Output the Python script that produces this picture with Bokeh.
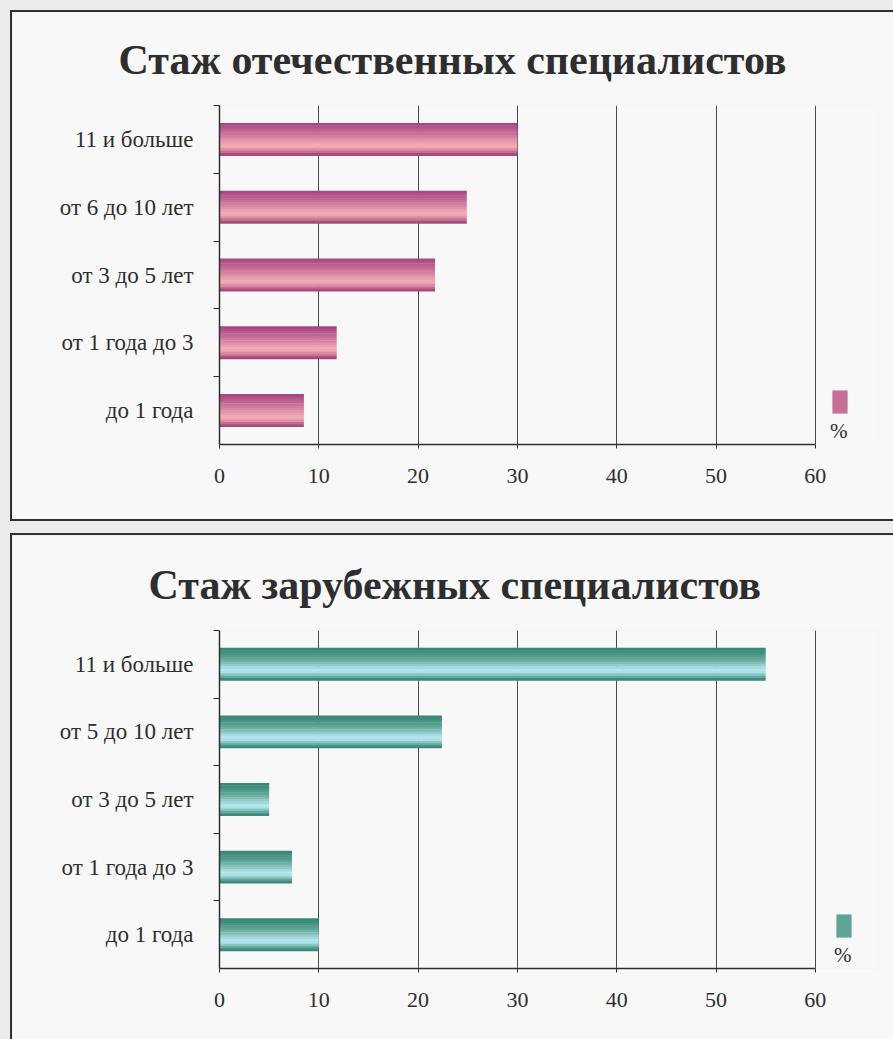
from bokeh.plotting import figure
from bokeh.models import Range1d, FixedTicker, Legend, LegendItem, ColumnDataSource
from bokeh.transform import dodge
from bokeh.layouts import column
from bokeh.embed import file_html
from bokeh.resources import INLINE

# ---------------- data ----------------
title_dom = "Стаж отечественных специалистов"
categories_dom = ["до 1 года", "от 1 года до 3", "от 3 до 5 лет", "от 6 до 10 лет", "11 и больше"]
values_dom = [8.5, 11.8, 21.7, 24.9, 30.0]

title_for = "Стаж зарубежных специалистов"
categories_for = ["до 1 года", "от 1 года до 3", "от 3 до 5 лет", "от 5 до 10 лет", "11 и больше"]
values_for = [10.0, 7.3, 5.0, 22.4, 55.0]

x_ticks = [0, 10, 20, 30, 40, 50, 60]
legend_label = "%"

# ---------------- style ----------------
FONT = "Liberation Serif"
TXT = "#2e2e2e"
PANEL_BG = "#f8f8f8"
PAGE_BG = "#ececec"
B = "2px solid #303030"

# gradient stops, from the top edge of a bar to its bottom edge
pink_stops = ["#a8487c", "#b0518a", "#b95b8f", "#c06594", "#c86f99", "#d07b9f",
              "#d886a4", "#e093a9", "#e99fae", "#f1aab2", "#eea5b0", "#dc8aa5",
              "#c46e94", "#a84a7c"]
teal_stops = ["#3a8776", "#3f8d7c", "#479583", "#519d8c", "#5ea596", "#6eb0a3",
              "#80bdb4", "#93cbc8", "#a5dadd", "#b3e5ed", "#ace0e6", "#8ac6c4",
              "#62a89c", "#3d8a7a"]

AXIS_PX = 594          # pixels from 0 to the last tick
FRAME_PX = 657         # frame also holds the legend, to the right of the axis end
FRAME_LEFT = 207


def make_panel(title, cats, vals, stops, swatch_idx, frame_top, frame_h,
               height, title_offset, title_standoff, top_margin, borders, legend_x):
    width = 883
    x_end = x_ticks[-1] * FRAME_PX / AXIS_PX
    p = figure(width=width, height=height, output_backend="svg", toolbar_location=None,
               x_range=Range1d(x_ticks[0], x_end), y_range=Range1d(-0.5, len(cats) - 0.5),
               min_border_left=FRAME_LEFT, min_border_top=frame_top,
               min_border_right=width - 2 - FRAME_LEFT - FRAME_PX,
               min_border_bottom=height - frame_top - frame_h,
               background_fill_color=PANEL_BG, border_fill_color=PANEL_BG,
               outline_line_color=None,
               margin=(top_margin, 0, 0, 10),
               styles=borders)

    p.title.text = title
    p.title.text_font = FONT
    p.title.text_font_size = "42px"
    p.title.text_font_style = "bold"
    p.title.text_color = TXT
    p.title.align = "left"
    p.title.offset = title_offset
    p.title.standoff = title_standoff

    src = ColumnDataSource(dict(y=list(range(len(cats))), v=vals))
    bar_h = 0.48
    n = len(stops)
    strip = bar_h / n
    renderers = []
    for i, c in enumerate(stops):
        off = bar_h / 2 - strip * (i + 0.5)
        r = p.hbar(y=dodge("y", off), left=0, right="v", height=strip * 1.2,
                   source=src, fill_color=c, line_color=None)
        renderers.append(r)

    # x axis (line only from the first to the last tick)
    p.xaxis.ticker = FixedTicker(ticks=x_ticks)
    p.xaxis.bounds = (x_ticks[0], x_ticks[-1])
    p.xaxis.axis_line_color = "#303030"
    p.xaxis.axis_line_width = 1.5
    p.xaxis.major_tick_in = 0
    p.xaxis.major_tick_out = 4
    p.xaxis.major_tick_line_color = "#303030"
    p.xaxis.minor_tick_line_color = None
    p.xaxis.major_label_text_font = FONT
    p.xaxis.major_label_text_font_size = "22px"
    p.xaxis.major_label_text_color = TXT
    p.xaxis.major_label_standoff = 20

    # y axis
    k = len(cats)
    p.yaxis.ticker = FixedTicker(ticks=list(range(k)),
                                 minor_ticks=[i + 0.5 for i in range(k)])
    p.yaxis.major_label_overrides = {i: c for i, c in enumerate(cats)}
    p.yaxis.axis_line_color = "#303030"
    p.yaxis.axis_line_width = 1.5
    p.yaxis.major_tick_in = 0
    p.yaxis.major_tick_out = 0
    p.yaxis.minor_tick_in = 0
    p.yaxis.minor_tick_out = 6
    p.yaxis.minor_tick_line_color = "#303030"
    p.yaxis.major_label_text_font = FONT
    p.yaxis.major_label_text_font_size = "23px"
    p.yaxis.major_label_text_color = TXT
    p.yaxis.major_label_standoff = 20

    p.xgrid.ticker = FixedTicker(ticks=x_ticks)
    p.xgrid.grid_line_color = "#4a4a4a"
    p.xgrid.grid_line_width = 1
    p.ygrid.grid_line_color = None

    legend = Legend(items=[LegendItem(label=" ", renderers=[renderers[swatch_idx]])],
                    location=(legend_x, 0), glyph_width=19, glyph_height=29,
                    padding=0, margin=0, spacing=0, label_standoff=0, label_width=0,
                    label_text_font_size="4px",
                    title=legend_label, title_location="below",
                    title_text_font=FONT, title_text_font_size="21px",
                    title_text_font_style="normal", title_text_color=TXT,
                    title_standoff=3,
                    border_line_color=None, background_fill_alpha=0)
    p.add_layout(legend, "center")
    return p


p1 = make_panel(title_dom, categories_dom, values_dom, pink_stops, 4,
                frame_top=93, frame_h=339, height=511,
                title_offset=-101, title_standoff=45, top_margin=10,
                borders={"border-top": B, "border-left": B, "border-bottom": B,
                         "border-right": "none"},
                legend_x=611)
p2 = make_panel(title_for, categories_for, values_for, teal_stops, 4,
                frame_top=95, frame_h=338, height=506,
                title_offset=-71, title_standoff=45, top_margin=12,
                borders={"border-top": B, "border-left": B,
                         "border-right": "none", "border-bottom": "none"},
                legend_x=615)

layout = column(p1, p2, width=893, height=1039, spacing=0,
                styles={"background-color": PAGE_BG})

open("out.html", "w").write(file_html(layout, INLINE))
